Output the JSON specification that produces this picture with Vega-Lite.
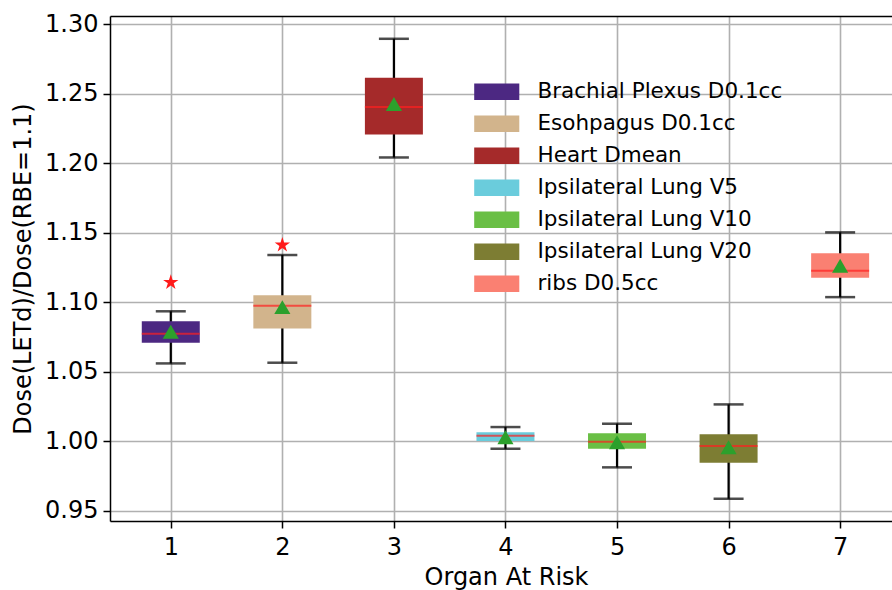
{
  "$schema": "https://vega.github.io/schema/vega-lite/v6.json",
  "width": 782,
  "height": 505,
  "autosize": {"type": "none"},
  "padding": {"left": 110, "top": 16, "right": 0, "bottom": 69},
  "background": "white",
  "config": {
    "view": {"stroke": null},
    "font": "DejaVu Sans",
    "axis": {
      "labelFont": "DejaVu Sans",
      "titleFont": "DejaVu Sans",
      "labelColor": "black",
      "titleColor": "black",
      "titleFontWeight": "normal",
      "domainColor": "black",
      "domainWidth": 1.5,
      "tickColor": "black",
      "tickWidth": 1.5,
      "tickSize": 7,
      "gridColor": "#b0b0b0",
      "gridWidth": 1.6,
      "gridOpacity": 1
    },
    "legend": {"labelFont": "DejaVu Sans"}
  },
  "data": {
    "values": [
      {"organ": 1, "name": "Brachial Plexus D0.1cc", "lo": 1.0560, "q1": 1.0709, "med": 1.0773, "q3": 1.0863, "hi": 1.0935, "mean": 1.0788, "out": 1.1143},
      {"organ": 2, "name": "Esohpagus D0.1cc", "lo": 1.0565, "q1": 1.0812, "med": 1.0975, "q3": 1.1050, "hi": 1.1340, "mean": 1.0965, "out": 1.1412},
      {"organ": 3, "name": "Heart Dmean", "lo": 1.2042, "q1": 1.2208, "med": 1.2406, "q3": 1.2615, "hi": 1.2896, "mean": 1.2426, "out": null},
      {"organ": 4, "name": "Ipsilateral Lung V5", "lo": 0.9946, "q1": 1.0001, "med": 1.0040, "q3": 1.0064, "hi": 1.0102, "mean": 1.0028, "out": null},
      {"organ": 5, "name": "Ipsilateral Lung V10", "lo": 0.9812, "q1": 0.9946, "med": 0.9996, "q3": 1.0057, "hi": 1.0126, "mean": 0.9992, "out": null},
      {"organ": 6, "name": "Ipsilateral Lung V20", "lo": 0.9586, "q1": 0.9845, "med": 0.9965, "q3": 1.0050, "hi": 1.0265, "mean": 0.9956, "out": null},
      {"organ": 7, "name": "ribs D0.5cc", "lo": 1.1037, "q1": 1.1176, "med": 1.1227, "q3": 1.1352, "hi": 1.1503, "mean": 1.1263, "out": null}
    ]
  },
  "resolve": {"axis": {"x": "independent"}},
  "layer": [
    {
      "mark": {"type": "rule", "color": "black", "strokeWidth": 2.2},
      "encoding": {
        "x": {"field": "organ", "type": "quantitative",
              "scale": {"domain": [0.5, 7.42], "nice": false, "zero": false},
              "axis": {"values": [1, 2, 3, 4, 5, 6, 7], "format": "d", "labelFontSize": 24, "labelPadding": 7,
                       "title": "Organ At Risk", "titleFontSize": 24, "titlePadding": 6, "titleX": 396, "grid": true}},
        "y": {"field": "lo", "type": "quantitative",
              "scale": {"domain": [0.9426, 1.306], "nice": false, "zero": false},
              "axis": {"values": [0.95, 1.0, 1.05, 1.1, 1.15, 1.2, 1.25, 1.3], "format": ".2f", "labelFontSize": 24, "labelPadding": 5,
                       "title": "Dose(LETd)/Dose(RBE=1.1)", "titleFontSize": 24, "titlePadding": 9, "grid": true}},
        "y2": {"field": "hi"}
      }
    },
    {
      "mark": {"type": "tick", "orient": "horizontal", "color": "black", "size": 30, "thickness": 2.5},
      "encoding": {
        "x": {"field": "organ", "type": "quantitative",
              "axis": {"orient": "top", "labels": false, "ticks": false, "grid": false, "title": null, "domain": true}},
        "y": {"field": "lo", "type": "quantitative"}
      }
    },
    {
      "mark": {"type": "tick", "orient": "horizontal", "color": "black", "size": 30, "thickness": 2.5},
      "encoding": {
        "x": {"field": "organ", "type": "quantitative", "axis": null},
        "y": {"field": "hi", "type": "quantitative"}
      }
    },
    {
      "mark": {"type": "bar", "width": 58, "opacity": 1},
      "encoding": {
        "x": {"field": "organ", "type": "quantitative", "axis": null},
        "y": {"field": "q1", "type": "quantitative"},
        "y2": {"field": "q3"},
        "color": {
          "field": "name", "type": "nominal",
          "scale": {
            "domain": ["Brachial Plexus D0.1cc", "Esohpagus D0.1cc", "Heart Dmean", "Ipsilateral Lung V5", "Ipsilateral Lung V10", "Ipsilateral Lung V20", "ribs D0.5cc"],
            "range": ["#4c2882", "#d2b48c", "#a52a2a", "#6accdc", "#6abf45", "#7d7d33", "#fa8072"]
          },
          "legend": {
            "orient": "none", "legendX": 376, "legendY": 65, "title": null,
            "symbolType": "M-2.7,-1H2.7V1H-2.7Z", "symbolSize": 279, "symbolStrokeWidth": 0, "symbolOpacity": 1,
            "labelFontSize": 21.5, "labelLimit": 400, "labelOffset": 30, "rowPadding": 9, "labelColor": "black"
          }
        }
      }
    },
    {
      "mark": {"type": "tick", "orient": "horizontal", "color": "#ff2020", "size": 58, "thickness": 2},
      "encoding": {
        "x": {"field": "organ", "type": "quantitative", "axis": null},
        "y": {"field": "med", "type": "quantitative"}
      }
    },
    {
      "mark": {"type": "point", "shape": "triangle-up", "filled": true, "color": "#2ca02c", "opacity": 1, "size": 260},
      "encoding": {
        "x": {"field": "organ", "type": "quantitative", "axis": null},
        "y": {"field": "mean", "type": "quantitative"}
      }
    },
    {
      "mark": {"type": "point", "shape": "M0,-1L0.2245,-0.309L0.9511,-0.309L0.3633,0.118L0.5878,0.809L0,0.382L-0.5878,0.809L-0.3633,0.118L-0.9511,-0.309L-0.2245,-0.309Z", "filled": true, "color": "#ff1a1a", "opacity": 1, "size": 260},
      "encoding": {
        "x": {"field": "organ", "type": "quantitative", "axis": null},
        "y": {"field": "out", "type": "quantitative"}
      }
    }
  ]
}
